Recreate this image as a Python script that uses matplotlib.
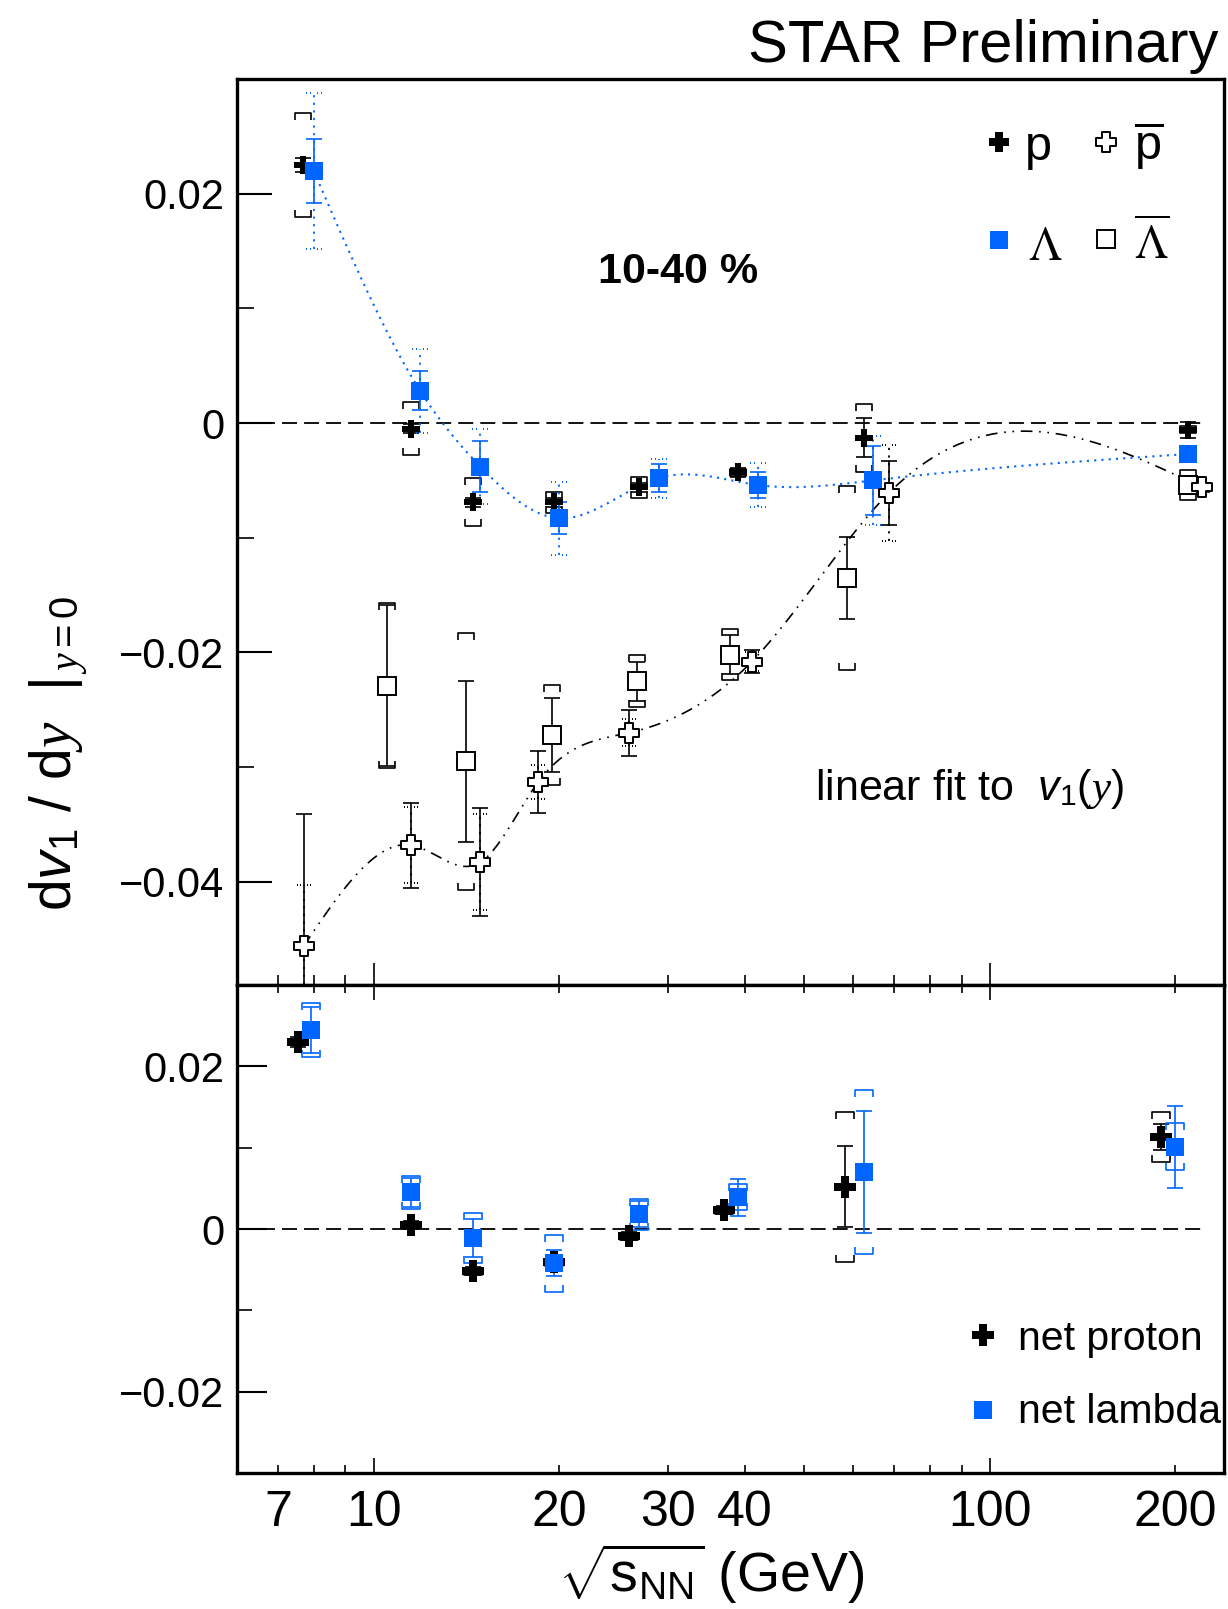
import numpy as np
import matplotlib
matplotlib.use("Agg")
import matplotlib.pyplot as plt
from matplotlib.path import Path
from matplotlib.ticker import FixedLocator, FixedFormatter, FuncFormatter

plt.rcParams['font.family'] = ['Liberation Sans', 'DejaVu Sans']
plt.rcParams['mathtext.fontset'] = 'custom'
plt.rcParams['mathtext.rm'] = 'Liberation Sans'
plt.rcParams['mathtext.it'] = 'Liberation Serif:italic'
plt.rcParams['mathtext.sf'] = 'Liberation Sans:italic'
plt.rcParams['mathtext.bf'] = 'Liberation Sans:bold'

BLUE = '#0066ff'

# top panel: dv1/dy for p, pbar, Lambda, anti-Lambda (x shifted as drawn)
p_x = [7.67, 11.5, 14.5, 19.6, 27.0, 39.1, 62.4, 210]
p_y = [0.0225, -0.0005, -0.0069, -0.0069, -0.0056, -0.0043, -0.0013, -0.0006]
p_stat = [0.0006, 0.0004, 0.0004, 0.0004, 0.0004, 0.0004, 0.0017, 0.0007]
p_sys = [0.0045, 0.0023, 0.0021, 0.0009, 0.0009, 0.0003, 0.0030, 0.0003]

pbar_x = [7.7, 11.5, 14.9, 18.5, 26.0, 41.1, 68.6, 221]
pbar_y = [-0.0456, -0.0368, -0.0383, -0.0313, -0.0270, -0.0208, -0.0061, -0.0056]
pbar_stat = [0.0115, 0.0037, 0.0047, 0.0027, 0.0020, 0.0010, 0.0028, 0.0004]
pbar_sys = [0.0053, 0.0033, 0.0042, 0.0015, 0.0012, 0.0008, 0.0042, 0.0003]

lam_x = [7.99, 11.9, 14.9, 20.0, 29.0, 42.0, 64.6, 210]
lam_y = [0.0220, 0.0028, -0.0038, -0.0083, -0.0048, -0.0054, -0.0050, -0.0027]
lam_stat = [0.0028, 0.0017, 0.0022, 0.0014, 0.0012, 0.0011, 0.0030, 0.0004]
lam_sys = [0.0068, 0.0037, 0.0033, 0.0032, 0.0017, 0.0019, 0.0039, 0.0004]

lbar_x = [10.5, 14.1, 19.5, 26.8, 37.9, 58.6, 210]
lbar_y = [-0.0229, -0.0295, -0.0272, -0.0225, -0.0202, -0.0135, -0.0054]
lbar_stat = [0.0070, 0.0070, 0.0032, 0.0017, 0.0017, 0.0036, 0.0008]
lbar_sys = [0.0072, 0.0112, 0.0044, 0.0023, 0.0022, 0.0080, 0.0013]

# bottom panel: net proton / net lambda
netp_x = [7.55, 11.5, 14.5, 19.6, 26.0, 37.1, 58.2, 190]
netp_y = [0.0230, 0.0005, -0.0052, -0.0041, -0.0009, 0.0023, 0.0052, 0.0113]
netp_stat = [0.0006, 0.0005, 0.0005, 0.0005, 0.0005, 0.0005, 0.0050, 0.0016]
netp_sys = [0.0004, 0.0004, 0.0004, 0.0004, 0.0004, 0.0004, 0.0092, 0.0031]

netl_x = [7.9, 11.5, 14.5, 19.6, 27.0, 39.0, 62.4, 200]
netl_y = [0.0245, 0.0045, -0.0011, -0.0042, 0.0018, 0.0039, 0.0070, 0.0101]
netl_stat = [0.0028, 0.0018, 0.0023, 0.0016, 0.0016, 0.0023, 0.0075, 0.0050]
netl_sys = [0.0033, 0.0020, 0.0031, 0.0035, 0.0019, 0.0016, 0.0101, 0.0029]

x_major = [10, 100]
x_minor = [7, 8, 9, 20, 30, 40, 50, 60, 70, 80, 90, 200]
x_labeled = [7, 10, 20, 30, 40, 100, 200]

# marker shapes: ROOT-like thick cross, sys brackets, dotted caps
a = 0.38
cross = Path([(-a, -1), (-a, -a), (-1, -a), (-1, a), (-a, a), (-a, 1), (a, 1),
              (a, a), (1, a), (1, -a), (a, -a), (a, -1), (-a, -1)], closed=True)
bracket_top = Path([(-1, -0.8), (-1, 0), (1, 0), (1, -0.8)])
bracket_bot = Path([(-1, 0.8), (-1, 0), (1, 0), (1, 0.8)])
verts, codes = [], []
for c in np.linspace(-1, 0.88, 5):
    verts += [(c, 0), (c + 0.12, 0)]
    codes += [Path.MOVETO, Path.LINETO]
dot_cap = Path(verts, codes)


def brackets(ax, x, y, s, color, ms=12):
    y, s = np.array(y), np.array(s)
    kw = dict(ls='none', mfc='none', mec=color, mew=1.2, ms=ms, zorder=2)
    ax.plot(x, y + s, marker=bracket_top, **kw)
    ax.plot(x, y - s, marker=bracket_bot, **kw)


def dotted_sys(ax, x, y, s, color, ms=11):
    y, s = np.array(y), np.array(s)
    ax.vlines(x, y - s, y + s, colors=color, linestyles=(0, (1.2, 3)), lw=1.3, zorder=2)
    kw = dict(ls='none', mfc='none', mec=color, mew=1.4, ms=ms, zorder=2)
    ax.plot(x, y + s, marker=dot_cap, **kw)
    ax.plot(x, y - s, marker=dot_cap, **kw)


def stat_bars(ax, x, y, s, color, cap=6):
    ax.errorbar(x, y, yerr=s, fmt='none', ecolor=color, elinewidth=1.2,
                capsize=cap, capthick=1.2, zorder=2)


def smooth(xs, ys, n=400):
    # natural cubic spline in log(x), like ROOT's "C" option
    u = np.log10(xs)
    y = np.asarray(ys, float)
    h = np.diff(u)
    m = len(u)
    A = np.zeros((m, m))
    b = np.zeros(m)
    A[0, 0] = A[-1, -1] = 1
    for i in range(1, m - 1):
        A[i, i - 1] = h[i - 1]
        A[i, i] = 2 * (h[i - 1] + h[i])
        A[i, i + 1] = h[i]
        b[i] = 6 * ((y[i + 1] - y[i]) / h[i] - (y[i] - y[i - 1]) / h[i - 1])
    M = np.linalg.solve(A, b)
    uu = np.linspace(u[0], u[-1], n)
    k = np.clip(np.searchsorted(u, uu) - 1, 0, m - 2)
    t0 = u[k + 1] - uu
    t1 = uu - u[k]
    hk = h[k]
    yy = (M[k] * t0**3 + M[k + 1] * t1**3) / (6 * hk) \
        + (y[k] / hk - M[k] * hk / 6) * t0 + (y[k + 1] / hk - M[k + 1] * hk / 6) * t1
    return 10**uu, yy


def yfmt(v, pos):
    if abs(v) < 1e-9:
        return '0'
    return f'{v:.2f}'.replace('-', '\u2212')


fig = plt.figure(figsize=(12.28, 16.09), dpi=100)
ax1 = fig.add_axes([0.1930, 0.38782, 0.8037, 0.56308])
ax2 = fig.add_axes([0.1930, 0.08452, 0.8037, 0.30330])

for ax in (ax1, ax2):
    ax.set_xscale('log')
    ax.set_xlim(6, 240)
    ax.xaxis.set_major_locator(FixedLocator(x_major))
    ax.xaxis.set_minor_locator(FixedLocator(x_minor))
    ax.yaxis.set_major_formatter(FuncFormatter(yfmt))
    for sp in ax.spines.values():
        sp.set_linewidth(2.4)
    ax.axhline(0, xmin=0.023, xmax=0.981, color='k', lw=1.3, dashes=(8.3, 3.9), zorder=1)

# ---- top panel
ax1.set_ylim(-0.049, 0.030)
ax1.yaxis.set_major_locator(FixedLocator([-0.04, -0.02, 0, 0.02]))
ax1.yaxis.set_minor_locator(FixedLocator([-0.03, -0.01, 0.01]))
ax1.tick_params(axis='y', which='major', direction='in', length=25, width=1.5,
                labelsize=30, pad=9, right=False)
ax1.tick_params(axis='y', which='minor', direction='in', length=12, width=1.2, right=False)
ax1.tick_params(axis='x', which='major', direction='in', length=16, width=1.2,
                top=False, labelbottom=False)
ax1.tick_params(axis='x', which='minor', direction='in', length=7, width=1.2,
                top=False, labelbottom=False)

sx, sy = smooth(lam_x, lam_y)
ax1.plot(sx, sy, color=BLUE, lw=1.5, ls=(0, (1, 2.5)), zorder=1.5)
sx, sy = smooth(pbar_x, pbar_y)
ax1.plot(sx, sy, color='k', lw=1.2, ls=(0, (7, 4, 1, 4, 1, 4)), zorder=1.5)

brackets(ax1, p_x, p_y, p_sys, 'k')
stat_bars(ax1, p_x, p_y, p_stat, 'k')
dotted_sys(ax1, lam_x, lam_y, lam_sys, BLUE)
stat_bars(ax1, lam_x, lam_y, lam_stat, BLUE)
brackets(ax1, lbar_x, lbar_y, lbar_sys, 'k')
stat_bars(ax1, lbar_x, lbar_y, lbar_stat, 'k')
dotted_sys(ax1, pbar_x, pbar_y, pbar_sys, 'k', ms=10)
stat_bars(ax1, pbar_x, pbar_y, pbar_stat, 'k')

ax1.plot(p_x, p_y, ls='none', marker=cross, ms=13, color='k', mew=0, zorder=3)
ax1.plot(lam_x, lam_y, ls='none', marker='s', ms=12.5, color=BLUE, mew=0, zorder=4)
ax1.plot(lbar_x, lbar_y, ls='none', marker='s', ms=12.5, mfc='white', mec='k', mew=1.4, zorder=5)
ax1.plot(pbar_x, pbar_y, ls='none', marker=cross, ms=14, mfc='white', mec='k', mew=1.4, zorder=6)

# legend (ROOT style, placed by hand)
ta = ax1.transAxes
ax1.plot([0.772], [0.930], transform=ta, marker=cross, ms=14.5, color='k', mew=0, clip_on=False)
ax1.text(0.798, 0.911, 'p', transform=ta, fontsize=35, va='baseline')
ax1.plot([0.880], [0.930], transform=ta, marker=cross, ms=14.5, mfc='white', mec='k', mew=1.4, clip_on=False)
ax1.text(0.909, 0.911, r'$\overline{\mathrm{p}}$', transform=ta, fontsize=35, va='baseline')
ax1.plot([0.772], [0.822], transform=ta, marker='s', ms=13, color=BLUE, mew=0, clip_on=False)
ax1.text(0.801, 0.800, r'$\Lambda$', transform=ta, fontsize=34, va='baseline', math_fontfamily='stix')
ax1.plot([0.880], [0.823], transform=ta, marker='s', ms=12.5, mfc='white', mec='k', mew=1.4, clip_on=False)
ax1.text(0.909, 0.800, r'$\overline{\Lambda}$', transform=ta, fontsize=34, va='baseline', math_fontfamily='stix')

ax1.text(0.366, 0.775, '10-40 %', transform=ta, fontsize=31, fontweight='bold', va='baseline')
ax1.text(0.586, 0.204, r'linear fit to  $\mathsf{v}_{1}(y)$', transform=ta, fontsize=31, va='baseline')

# ---- bottom panel
ax2.set_ylim(-0.03, 0.03)
ax2.yaxis.set_major_locator(FixedLocator([-0.02, 0, 0.02]))
ax2.yaxis.set_minor_locator(FixedLocator([-0.01, 0.01]))
ax2.tick_params(axis='y', which='major', direction='in', length=21.5, width=1.5,
                labelsize=30, pad=9, right=False)
ax2.tick_params(axis='y', which='minor', direction='in', length=11, width=1.2, right=False)
ax2.tick_params(axis='x', which='major', direction='in', length=11, width=1.2,
                top=True, labelsize=36, pad=12)
ax2.tick_params(axis='x', which='minor', direction='in', length=5.5, width=1.2,
                top=True, labelsize=36, pad=12)
ax2.xaxis.set_major_formatter(FixedFormatter([str(v) for v in x_major]))
ax2.xaxis.set_minor_formatter(FuncFormatter(
    lambda v, pos: str(int(round(v))) if int(round(v)) in x_labeled else ''))

brackets(ax2, netp_x, netp_y, netp_sys, 'k', ms=12.5)
stat_bars(ax2, netp_x, netp_y, netp_stat, 'k')
brackets(ax2, netl_x, netl_y, netl_sys, BLUE, ms=12.5)
stat_bars(ax2, netl_x, netl_y, netl_stat, BLUE)
ax2.plot(netp_x, netp_y, ls='none', marker=cross, ms=16, color='k', mew=0, zorder=3)
ax2.plot(netl_x, netl_y, ls='none', marker='s', ms=12.5, color=BLUE, mew=0, zorder=4)

tb = ax2.transAxes
ax2.plot([0.756], [0.283], transform=tb, marker=cross, ms=16, color='k', mew=0, clip_on=False)
ax2.text(0.791, 0.252, 'net proton', transform=tb, fontsize=29.5, va='baseline')
ax2.plot([0.756], [0.129], transform=tb, marker='s', ms=12.5, color=BLUE, mew=0, clip_on=False)
ax2.text(0.791, 0.102, 'net lambda', transform=tb, fontsize=29.5, va='baseline')

# ---- labels
fig.text(0.992, 0.9615, 'STAR Preliminary', ha='right', va='baseline', fontsize=43)
fig.text(0.0485, 0.5317, r'd$\mathsf{v}_{1}$ / d$y$  $|_{\,y=0}$', rotation=90,
         ha='center', va='center', fontsize=41)
fig.text(0.579, 0.002, r'$\sqrt{\mathrm{s}_{\mathrm{NN}}}$ (GeV)', ha='center', va='bottom', fontsize=40)

fig.savefig('out.png', dpi=100, facecolor='white')
